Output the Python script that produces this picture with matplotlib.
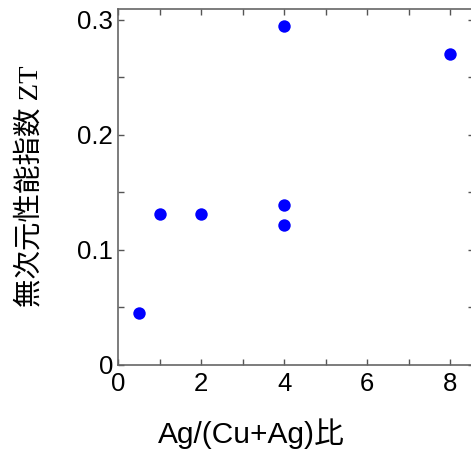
import matplotlib
matplotlib.use("Agg")
import matplotlib.pyplot as plt
from matplotlib.ticker import MultipleLocator

ratio = [0.5, 1, 2, 4, 4, 4, 8]
zt = [0.045, 0.131, 0.131, 0.295, 0.139, 0.122, 0.270]
xticks = [0, 2, 4, 6, 8]
yticks = [0, 0.1, 0.2, 0.3]
yticklabels = ["0", "0.1", "0.2", "0.3"]

W, H = 471, 457
RIGHT_PX = 473.5
fig = plt.figure(figsize=(W / 100, H / 100), dpi=100)
ax = fig.add_axes([118 / W, (H - 365) / H, (RIGHT_PX - 118) / W, (365 - 9.5) / H])

ax.scatter(ratio, zt, s=80, color="#0000ff", zorder=3, linewidths=0)

ax.set_xlim(0, (RIGHT_PX - 118) / 41.55)
ax.set_ylim(0, 0.309)
ax.set_xticks(xticks)
ax.set_xticklabels([str(v) for v in xticks], family=["Liberation Sans"], fontsize=18.5)
ax.set_yticks(yticks)
ax.set_yticklabels(yticklabels, family=["Liberation Sans"], fontsize=18.5)
ax.xaxis.set_minor_locator(MultipleLocator(1))
ax.yaxis.set_minor_locator(MultipleLocator(0.05))
ax.tick_params(which="both", direction="in", top=True, right=True, color="#555555", width=1)
ax.tick_params(which="major", length=4)
ax.tick_params(which="minor", length=4)
ax.tick_params(axis="x", pad=5)
ax.tick_params(axis="y", pad=3.5)
for sp in ax.spines.values():
    sp.set_color("#666666")
    sp.set_linewidth(1.2)

ax.set_xlabel("Ag/(Cu+Ag)比", family=["Liberation Sans", "Noto Sans CJK JP"], fontsize=21.5)
ax.set_ylabel("無次元性能指数 ZT", family=["Liberation Serif", "Noto Sans CJK JP"], fontsize=20.5)

ax_w = RIGHT_PX - 118
ax_h = 365 - 9.5
ax.xaxis.set_label_coords((251 - 118) / ax_w, -(434 - 365) / ax_h)
ax.xaxis.label.set_va("center")
ax.yaxis.set_label_coords(-(118 - 30) / ax_w, (365 - 186) / ax_h)
ax.yaxis.label.set_va("center")

fig.savefig("out.png", dpi=100)
